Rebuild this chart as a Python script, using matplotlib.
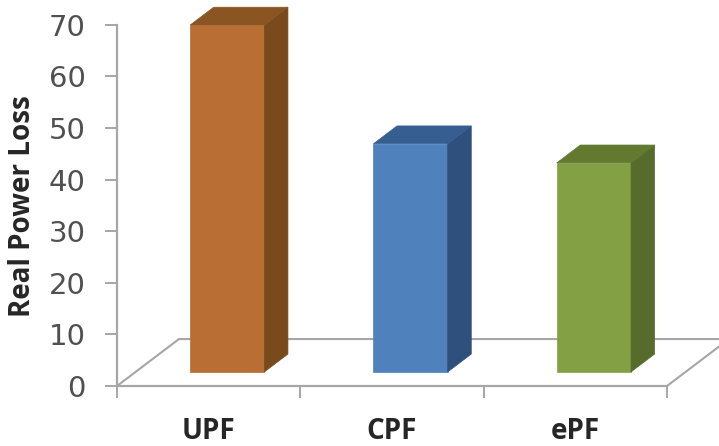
import matplotlib
matplotlib.use("Agg")
import matplotlib.pyplot as plt
from matplotlib.patches import Polygon

categories = ["UPF", "CPF", "ePF"]
real_power_loss = [67.2, 44.2, 40.5]
y_ticks = [0, 10, 20, 30, 40, 50, 60, 70]

front_colors = ["#B96F33", "#4F81BD", "#84A044"]
side_colors = ["#794A1B", "#2F4F7D", "#566B2C"]
top_colors = ["#8A5522", "#375E90", "#62792F"]

GRID = "#A6A6A6"
# oblique projection of the floor: full depth shift in data units
DEPTH_X = 0.338
DEPTH_Y = 9.1
BAR_WIDTH = 0.405
BAR_NEAR = 0.30
BAR_FAR = 0.68


def project(x, y, depth):
    return (x + depth * DEPTH_X, y + depth * DEPTH_Y)


def draw_bar(ax, center, value, front, side, top):
    x0 = center - BAR_WIDTH / 2
    x1 = center + BAR_WIDTH / 2
    faces = [
        ([(x0, 0, BAR_NEAR), (x1, 0, BAR_NEAR), (x1, value, BAR_NEAR), (x0, value, BAR_NEAR)], front),
        ([(x1, 0, BAR_NEAR), (x1, 0, BAR_FAR), (x1, value, BAR_FAR), (x1, value, BAR_NEAR)], side),
        ([(x0, value, BAR_NEAR), (x1, value, BAR_NEAR), (x1, value, BAR_FAR), (x0, value, BAR_FAR)], top),
    ]
    for corners, color in faces:
        pts = [project(*c) for c in corners]
        ax.add_patch(Polygon(pts, closed=True, facecolor=color, edgecolor=color,
                             linewidth=0.5, clip_on=False, zorder=3))


fig = plt.figure(figsize=(7.19, 4.46), dpi=100)
ax = fig.add_axes([117 / 719, 60 / 446, 550 / 719, 361.3 / 446])
ax.set_xlim(0, 3)
ax.set_ylim(0, 70)

for side_name in ["top", "right"]:
    ax.spines[side_name].set_visible(False)
for side_name in ["left", "bottom"]:
    ax.spines[side_name].set_color(GRID)
    ax.spines[side_name].set_linewidth(1.6)

# floor outline
floor = [project(0, 0, 0), project(0, 0, 1), project(3, 0, 1), project(3, 0, 0)]
ax.plot([p[0] for p in floor], [p[1] for p in floor], color=GRID, lw=1.5,
        clip_on=False, zorder=1)

for i, value in enumerate(real_power_loss):
    draw_bar(ax, i + 0.5, value, front_colors[i], side_colors[i], top_colors[i])

ax.set_yticks(y_ticks)
ax.tick_params(axis="y", length=8.5, width=1.4, color=GRID, pad=14,
               labelsize=21, labelcolor="#505050")
ax.set_xticks([0, 1, 2, 3])
ax.set_xticklabels([])
ax.tick_params(axis="x", which="major", length=8.5, width=1.4, color=GRID)
ax.set_xticks([0.5, 1.5, 2.5], minor=True)
ax.set_xticklabels(categories, minor=True, fontfamily="Open Sans", fontweight="bold",
                   fontsize=20, color="#262626")
ax.tick_params(axis="x", which="minor", length=0, pad=22)

fig.text(23 / 719, 1 - 206 / 446, "Real Power Loss", rotation=90, ha="center", va="center",
         fontfamily="Open Sans", fontweight="bold", fontsize=20, color="#262626")

fig.savefig("out.png", dpi=100)
